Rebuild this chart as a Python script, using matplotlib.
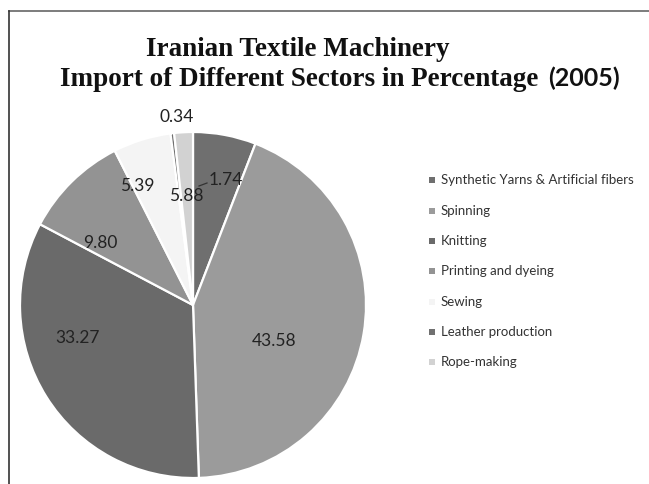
import matplotlib
matplotlib.use("Agg")
import matplotlib.pyplot as plt
from matplotlib.patches import Rectangle
from matplotlib.lines import Line2D

W, H, DPI = 649, 484, 100

sectors = [
    "Synthetic Yarns & Artificial fibers",
    "Spinning",
    "Knitting",
    "Printing and dyeing",
    "Sewing",
    "Leather production",
    "Rope-making",
]
shares = [5.88, 43.58, 33.27, 9.80, 5.39, 0.34, 1.74]
colors = ["#6f6f6f", "#9b9b9b", "#6a6a6a", "#939393", "#f4f4f4", "#707070", "#d2d2d2"]

# label anchor points in pixels (x from left, y from top)
label_px = [(186, 196), (274, 341), (78, 338), (100, 243), (137, 186), (177, 117), (226, 180)]

fig = plt.figure(figsize=(W / DPI, H / DPI), dpi=DPI)
fig.patch.set_facecolor("white")

# pie axes: centre (193, 305) px, radius 173 px
cx, cy, r = 193, 305, 173
ax = fig.add_axes([(cx - r) / W, (H - cy - r) / H, 2 * r / W, 2 * r / H])
ax.pie(shares, colors=colors, startangle=90, counterclock=False, radius=1.0,
       wedgeprops=dict(edgecolor="white", linewidth=1.6))
ax.set_xlim(-1, 1)
ax.set_ylim(-1, 1)
ax.set_aspect("equal")
ax.axis("off")

def px2data(px, py):
    return (px - cx) / r, (cy - py) / r

for val, (px, py) in zip(shares, label_px):
    x, y = px2data(px, py)
    ax.text(x, y, f"{val:.2f}", ha="center", va="center", fontsize=12.5,
            family="Lato", color="#222222", clip_on=False, zorder=3)

# short leader line next to the 1.74 label
x0, y0 = px2data(199, 186)
x1, y1 = px2data(207, 183)
ax.add_line(Line2D([x0, x1], [y0, y1], color="#333333", lw=0.9, zorder=4))

# frame lines along top and left
fig.add_artist(Line2D([9 / W, 1], [1 - 11 / H, 1 - 11 / H], color="#666666", lw=1.2,
                      transform=fig.transFigure))
fig.add_artist(Line2D([9 / W, 9 / W], [0, 1 - 11 / H], color="#333333", lw=1.2,
                      transform=fig.transFigure))

# title
fig.text(298 / W, 1 - 56 / H, "Iranian Textile Machinery", ha="center", va="baseline",
         fontsize=19.5, fontweight="bold", family="Liberation Serif", color="#111111")
fig.text(538 / W, 1 - 86 / H, "Import of Different Sectors in Percentage", ha="right",
         va="baseline", fontsize=19.5, fontweight="bold", family="Liberation Serif",
         color="#111111")
fig.text(620 / W, 1 - 86 / H, "(2005)", ha="right", va="baseline", fontsize=18,
         fontweight="bold", family="Lato", color="#111111")

# legend
leg_y = [180, 211, 241, 271, 302, 332, 362]
for name, col, y in zip(sectors, colors, leg_y):
    s = 6
    fig.add_artist(Rectangle(((432 - s / 2) / W, (H - y - s / 2) / H), s / W, s / H,
                             facecolor=col, edgecolor="none", transform=fig.transFigure))
    fig.text(441 / W, 1 - y / H, name, ha="left", va="center", fontsize=9.5,
             family="Lato", color="#333333")

fig.savefig("out.png", dpi=DPI, facecolor="white")
